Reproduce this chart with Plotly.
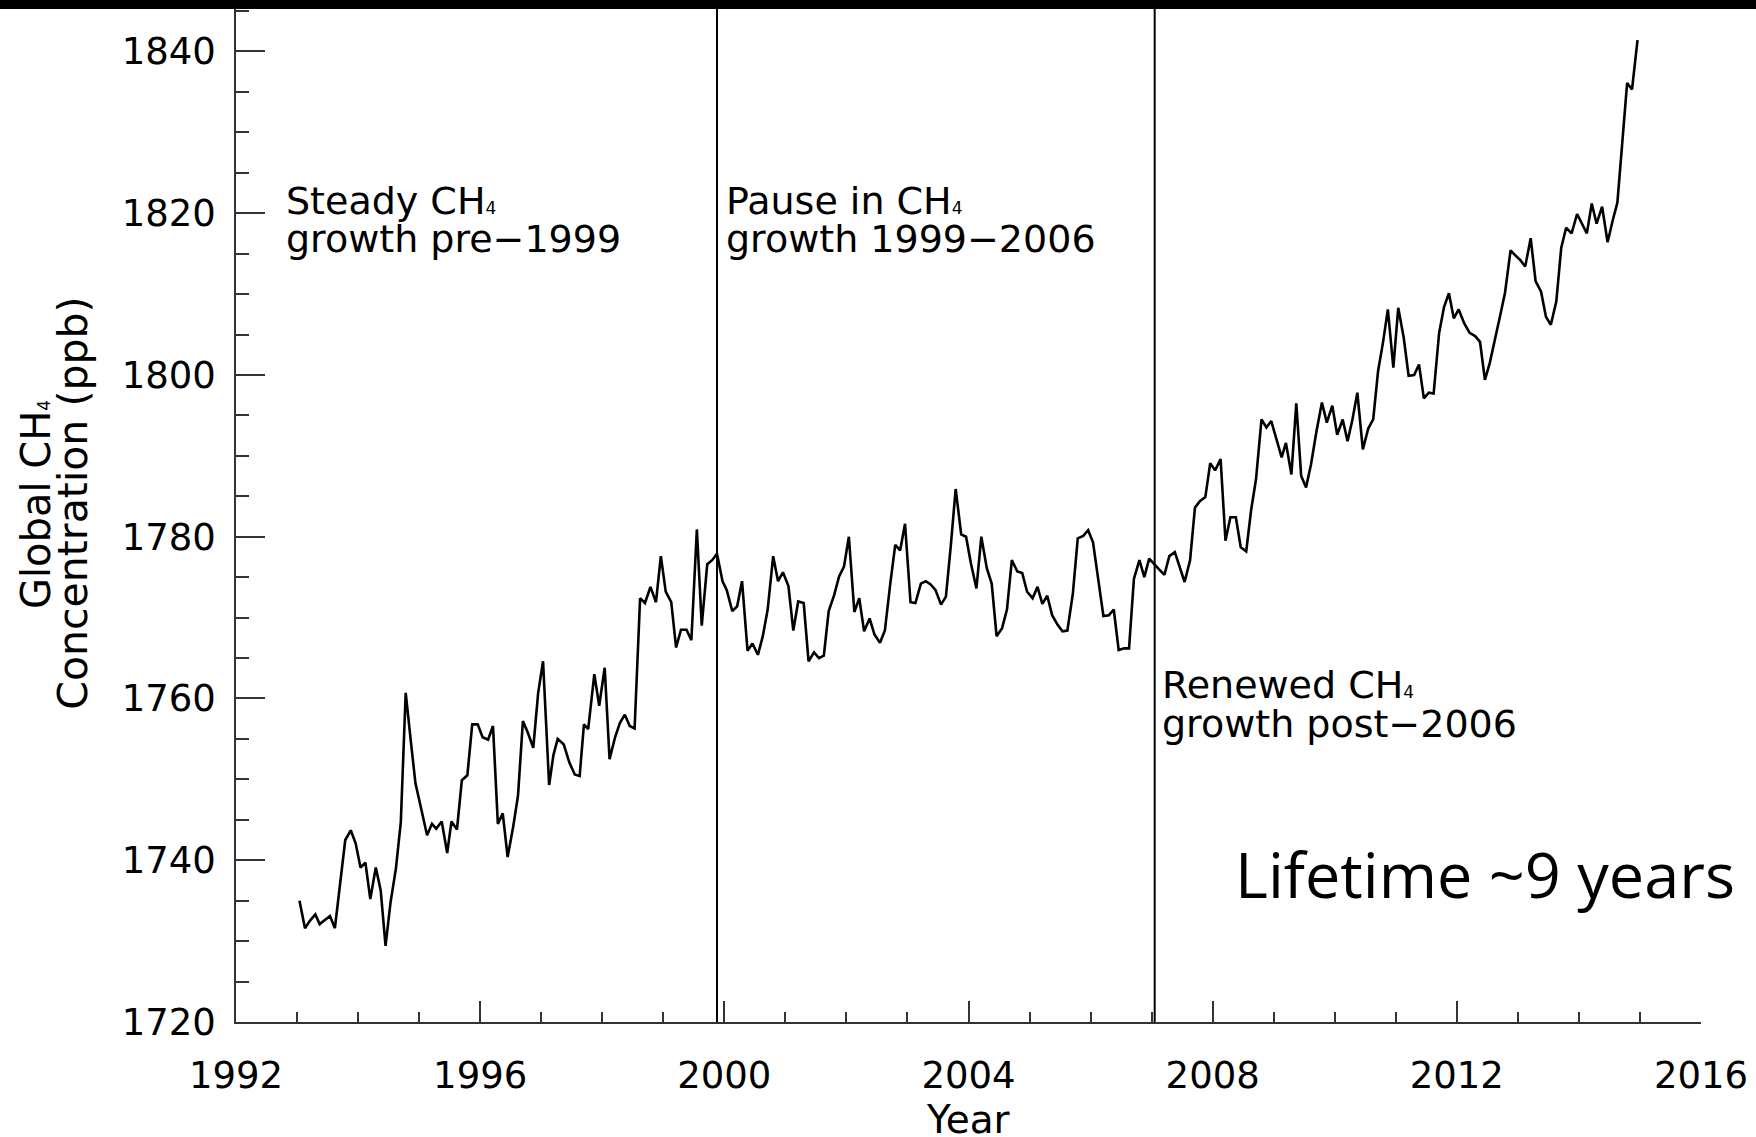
import plotly.graph_objects as go

# ---- data (decimal year, global CH4 ppb) ----
years = [
    1993.04, 1993.13, 1993.21, 1993.30, 1993.37, 1993.46, 1993.54, 1993.62, 1993.71, 1993.79,
    1993.88, 1993.96, 1994.04, 1994.12, 1994.20, 1994.29, 1994.37, 1994.45, 1994.53, 1994.62,
    1994.70, 1994.78, 1994.86, 1994.94, 1995.03, 1995.13, 1995.21, 1995.28, 1995.37, 1995.46,
    1995.53, 1995.62, 1995.70, 1995.79, 1995.87, 1995.96, 1996.04, 1996.13, 1996.21, 1996.29,
    1996.37, 1996.45, 1996.54, 1996.62, 1996.70, 1996.78, 1996.87, 1996.95, 1997.03, 1997.13,
    1997.20, 1997.27, 1997.37, 1997.46, 1997.55, 1997.63, 1997.70, 1997.77, 1997.87, 1997.95,
    1998.04, 1998.12, 1998.21, 1998.29, 1998.37, 1998.45, 1998.53, 1998.62, 1998.70, 1998.79,
    1998.88, 1998.96, 1999.04, 1999.13, 1999.21, 1999.29, 1999.38, 1999.46, 1999.55, 1999.63,
    1999.72, 1999.80, 1999.88, 1999.97, 2000.04, 2000.13, 2000.21, 2000.29, 2000.38, 2000.46,
    2000.55, 2000.63, 2000.71, 2000.80, 2000.88, 2000.96, 2001.05, 2001.13, 2001.21, 2001.30,
    2001.38, 2001.47, 2001.55, 2001.63, 2001.71, 2001.80, 2001.88, 2001.96, 2002.04, 2002.13,
    2002.21, 2002.29, 2002.38, 2002.46, 2002.55, 2002.63, 2002.72, 2002.80, 2002.88, 2002.96,
    2003.05, 2003.13, 2003.22, 2003.30, 2003.38, 2003.46, 2003.55, 2003.63, 2003.71, 2003.79,
    2003.88, 2003.96, 2004.04, 2004.13, 2004.21, 2004.30, 2004.38, 2004.46, 2004.55, 2004.63,
    2004.71, 2004.80, 2004.88, 2004.96, 2005.05, 2005.13, 2005.21, 2005.29, 2005.37, 2005.46,
    2005.54, 2005.62, 2005.71, 2005.79, 2005.88, 2005.96, 2006.04, 2006.13, 2006.21, 2006.30,
    2006.38, 2006.46, 2006.55, 2006.63, 2006.71, 2006.80, 2006.88, 2006.96, 2007.05, 2007.13,
    2007.21, 2007.29, 2007.38, 2007.46, 2007.54, 2007.63, 2007.71, 2007.79, 2007.88, 2007.96,
    2008.04, 2008.13, 2008.21, 2008.29, 2008.38, 2008.46, 2008.55, 2008.63, 2008.71, 2008.80,
    2008.88, 2008.96, 2009.05, 2009.13, 2009.20, 2009.29, 2009.37, 2009.45, 2009.53, 2009.61,
    2009.70, 2009.79, 2009.87, 2009.96, 2010.04, 2010.13, 2010.21, 2010.29, 2010.37, 2010.46,
    2010.55, 2010.63, 2010.71, 2010.79, 2010.87, 2010.96, 2011.04, 2011.13, 2011.21, 2011.30,
    2011.38, 2011.46, 2011.54, 2011.62, 2011.71, 2011.79, 2011.87, 2011.95, 2012.03, 2012.12,
    2012.21, 2012.30, 2012.38, 2012.46, 2012.54, 2012.63, 2012.72, 2012.79, 2012.88, 2012.97,
    2013.04, 2013.12, 2013.21, 2013.29, 2013.38, 2013.46, 2013.54, 2013.63, 2013.71, 2013.79,
    2013.88, 2013.97, 2014.05, 2014.13, 2014.21, 2014.29, 2014.38, 2014.47, 2014.55, 2014.63,
    2014.71, 2014.79, 2014.87, 2014.96,
]

ch4_ppb = [
    1735.0, 1731.6, 1732.5, 1733.3, 1732.1, 1732.6, 1733.1, 1731.6, 1737.0, 1742.5,
    1743.7, 1742.1, 1739.1, 1739.7, 1735.2, 1739.1, 1736.3, 1729.4, 1734.7, 1739.0,
    1744.7, 1760.7, 1755.0, 1749.5, 1746.5, 1743.1, 1744.5, 1743.9, 1744.8, 1740.9,
    1744.8, 1743.8, 1749.9, 1750.5, 1756.8, 1756.8, 1755.2, 1754.9, 1756.6, 1744.5,
    1745.8, 1740.4, 1744.1, 1748.0, 1757.2, 1755.8, 1753.9, 1760.7, 1764.6, 1749.3,
    1753.0, 1755.0, 1754.3, 1752.1, 1750.6, 1750.4, 1756.8, 1756.2, 1763.0, 1759.1,
    1763.8, 1752.5, 1755.2, 1757.0, 1758.0, 1756.6, 1756.3, 1772.4, 1771.8, 1773.8,
    1771.9, 1777.6, 1773.2, 1771.9, 1766.3, 1768.5, 1768.5, 1767.2, 1780.9, 1769.0,
    1776.6, 1777.1, 1777.9, 1774.5, 1773.4, 1770.8, 1771.4, 1774.5, 1765.9, 1766.8,
    1765.4, 1767.7, 1771.0, 1777.6, 1774.5, 1775.6, 1773.9, 1768.4, 1772.0, 1771.8,
    1764.6, 1765.7, 1765.0, 1765.3, 1770.8, 1772.8, 1775.1, 1776.3, 1780.0, 1770.7,
    1772.4, 1768.3, 1769.9, 1767.9, 1766.9, 1768.4, 1774.3, 1779.0, 1778.3, 1781.6,
    1771.9, 1771.8, 1774.2, 1774.5, 1774.1, 1773.4, 1771.6, 1772.6, 1778.9, 1785.9,
    1780.3, 1780.0, 1776.7, 1773.6, 1780.0, 1776.1, 1774.2, 1767.7, 1768.7, 1771.0,
    1777.1, 1775.7, 1775.5, 1773.2, 1772.4, 1773.8, 1771.7, 1772.7, 1770.3, 1769.1,
    1768.3, 1768.4, 1773.0, 1779.8, 1780.1, 1780.8, 1779.3, 1774.7, 1770.2, 1770.3,
    1771.0, 1766.0, 1766.2, 1766.2, 1774.8, 1777.1, 1775.0, 1777.3, 1776.5, 1775.9,
    1775.3, 1777.6, 1778.1, 1776.1, 1774.4, 1777.1, 1783.6, 1784.4, 1784.9, 1789.1,
    1788.2, 1789.6, 1779.5, 1782.4, 1782.4, 1778.7, 1778.2, 1783.3, 1787.1, 1794.5,
    1793.5, 1794.3, 1792.0, 1789.8, 1791.6, 1787.7, 1796.5, 1787.5, 1786.1, 1788.9,
    1793.0, 1796.6, 1794.1, 1796.2, 1792.6, 1794.5, 1791.8, 1794.5, 1797.8, 1790.8,
    1793.4, 1794.5, 1800.5, 1804.0, 1808.1, 1800.9, 1808.3, 1804.6, 1799.9, 1800.0,
    1801.3, 1797.1, 1797.8, 1797.7, 1805.2, 1808.4, 1810.1, 1807.0, 1808.1, 1806.4,
    1805.2, 1804.8, 1804.1, 1799.4, 1801.5, 1804.8, 1807.7, 1810.2, 1815.4, 1814.7,
    1814.2, 1813.4, 1816.9, 1811.6, 1810.3, 1807.2, 1806.2, 1809.1, 1815.7, 1818.2,
    1817.5, 1819.9, 1818.6, 1817.5, 1821.2, 1818.7, 1820.8, 1816.4, 1819.0, 1821.3,
    1828.7, 1836.1, 1835.3, 1841.4,
]

period_breaks = [1999.88, 2007.05]
SUB4 = "<span style='font-size:17px'>4</span>"
period_line1 = ["Steady CH" + SUB4, "Pause in CH" + SUB4, "Renewed CH" + SUB4]
period_line2 = ["growth pre\u22121999", "growth 1999\u22122006", "growth post\u22122006"]
period_x = [1992.78, 2000.00, 2007.14]
period_y1 = [1821.52, 1821.52, 1761.64]
period_y2 = [1816.82, 1816.82, 1756.82]

x_range = [1992, 2016]
y_range = [1720, 1845.37]
x_ticks_major = 4
y_ticks_major = 20

FONT = "DejaVu Sans"
AXC = "#333333"

fig = go.Figure()
fig.add_trace(go.Scatter(x=years, y=ch4_ppb, mode="lines",
                         line=dict(color="black", width=2.6), showlegend=False,
                         hoverinfo="skip"))

for xb in period_breaks:
    fig.add_shape(type="line", xref="x", yref="paper", x0=xb, x1=xb, y0=0, y1=1,
                  line=dict(color="black", width=2))

# black band across the top of the picture
fig.add_shape(type="rect", xref="paper", yref="paper", x0=-0.3, x1=1.2, y0=0.999, y1=1.05,
              fillcolor="black", line=dict(width=0), layer="above")

anns = []
for t1, t2, xx, y1, y2 in zip(period_line1, period_line2, period_x, period_y1, period_y2):
    anns.append(dict(text=t1, x=xx, y=y1, xref="x", yref="y", xanchor="left",
                     yanchor="middle", showarrow=False,
                     font=dict(family=FONT, size=38, color="black")))
    anns.append(dict(text=t2, x=xx, y=y2, xref="x", yref="y", xanchor="left",
                     yanchor="middle", showarrow=False,
                     font=dict(family=FONT, size=38, color="black")))

anns.append(dict(text="Lifetime ~9 years", x=2012.46, y=1738.42, xref="x", yref="y",
                 xanchor="center", yanchor="middle", showarrow=False,
                 font=dict(family="Open Sans", size=63, color="black")))

anns.append(dict(text="Year", x=2004, y=-0.0957, xref="x", yref="paper",
                 xanchor="center", yanchor="middle", showarrow=False,
                 font=dict(family=FONT, size=39, color="black")))
anns.append(dict(text="Global CH" + SUB4, x=-0.1365, y=0.5099, xref="paper", yref="paper",
                 xanchor="center", yanchor="middle", textangle=-90, showarrow=False,
                 font=dict(family=FONT, size=40, color="black")))
anns.append(dict(text="Concentration (ppb)", x=-0.1115, y=0.5118, xref="paper", yref="paper",
                 xanchor="center", yanchor="middle", textangle=-90, showarrow=False,
                 font=dict(family=FONT, size=41, color="black")))

fig.update_layout(
    width=1756, height=1137, autosize=False,
    margin=dict(l=236, r=55, t=8, b=115),
    paper_bgcolor="white", plot_bgcolor="white",
    annotations=anns,
    xaxis=dict(range=x_range, tickmode="linear", tick0=x_range[0], dtick=x_ticks_major,
               ticks="inside", ticklen=21, tickwidth=1.5, tickcolor=AXC,
               showline=True, linecolor=AXC, linewidth=1.5, showgrid=False, zeroline=False,
               tickfont=dict(family=FONT, size=37, color="black"), ticklabelstandoff=20,
               minor=dict(dtick=1, tick0=x_range[0], ticks="inside", ticklen=10,
                          tickwidth=1.5, tickcolor=AXC, showgrid=False)),
    yaxis=dict(range=y_range, tickmode="linear", tick0=y_range[0], dtick=y_ticks_major,
               ticks="inside", ticklen=29, tickwidth=1.5, tickcolor=AXC,
               showline=True, linecolor=AXC, linewidth=1.5, showgrid=False, zeroline=False,
               tickfont=dict(family=FONT, size=37, color="black"), ticklabelstandoff=11,
               minor=dict(dtick=5, tick0=y_range[0], ticks="inside", ticklen=13,
                          tickwidth=1.5, tickcolor=AXC, showgrid=False)),
)

fig.write_html("out.html", config={"displayModeBar": False},
               post_script="document.body.style.margin='0';document.body.style.overflow='hidden';")
